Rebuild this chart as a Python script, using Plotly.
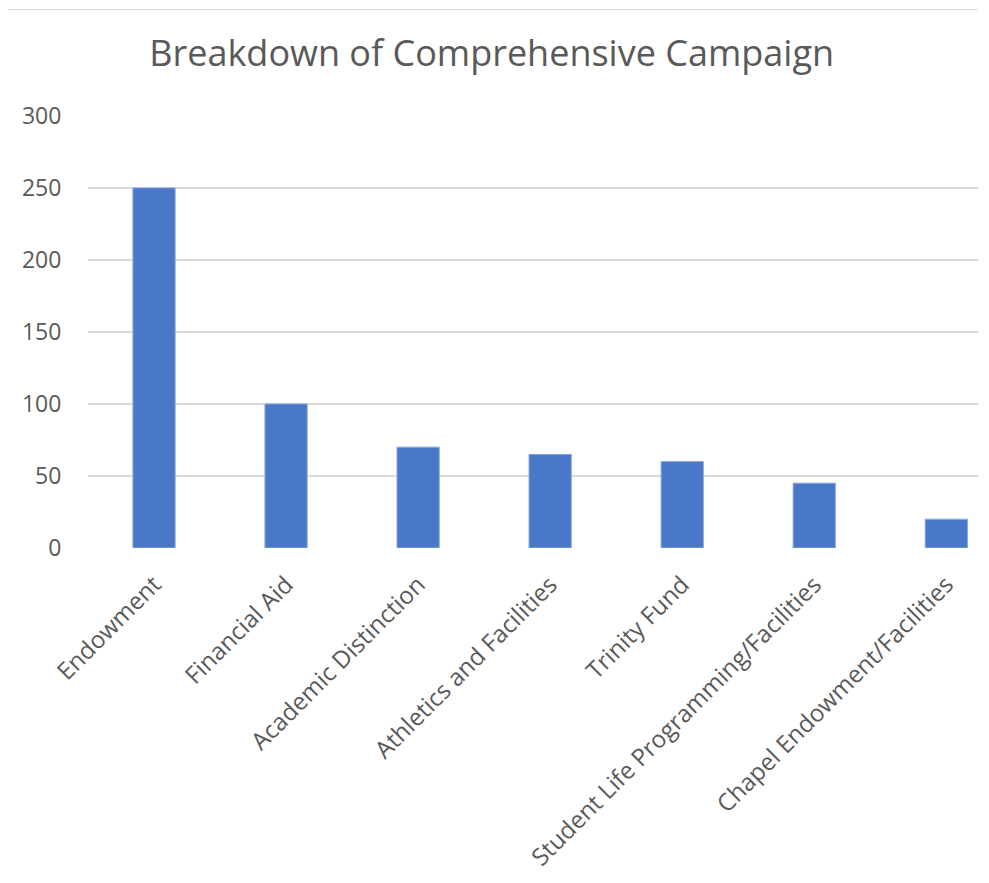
import plotly.graph_objects as go

categories = ["Endowment", "Financial Aid", "Academic Distinction", "Athletics and Facilities",
              "Trinity Fund", "Student Life Programming/Facilities", "Chapel Endowment/Facilities"]
values = [250, 100, 70, 65, 60, 45, 20]
y_ticks = [0, 50, 100, 150, 200, 250, 300]

font_family = "'Open Sans', sans-serif"
text_color = "#595959"

fig = go.Figure(go.Bar(
    x=categories, y=values,
    marker=dict(color="#4a78c8", line=dict(color="#8aa8dc", width=1)),
))

fig.update_layout(
    width=981, height=875,
    paper_bgcolor="white", plot_bgcolor="white",
    margin=dict(l=80, r=11, t=107, b=331),
    bargap=0.68,
    showlegend=False,
    title=dict(text="Breakdown of Comprehensive Campaign", x=0.493, xanchor="center",
               y=0.948, yanchor="middle",
               font=dict(family=font_family, size=36, color=text_color)),
    font=dict(family=font_family, color=text_color),
    shapes=[dict(type="line", xref="paper", yref="paper", x0=-0.1, x1=1.0, y0=1.2437, y1=1.2437,
                 line=dict(color="#d9d9d9", width=1))],
)
fig.update_xaxes(range=[-0.5, 6.24], tickangle=-45, tickfont=dict(size=24, color=text_color),
                 showgrid=False, showline=False, ticks="outside", ticklen=12,
                 tickcolor="rgba(0,0,0,0)")
fig.update_yaxes(range=[0, 300.6], tickvals=y_ticks, tickfont=dict(size=23, color=text_color),
                 showgrid=True, gridcolor="#d9d9d9", gridwidth=1.5, zeroline=False,
                 ticks="outside", ticklen=21, tickcolor="rgba(0,0,0,0)", showline=False)

fig.write_html("out.html")
